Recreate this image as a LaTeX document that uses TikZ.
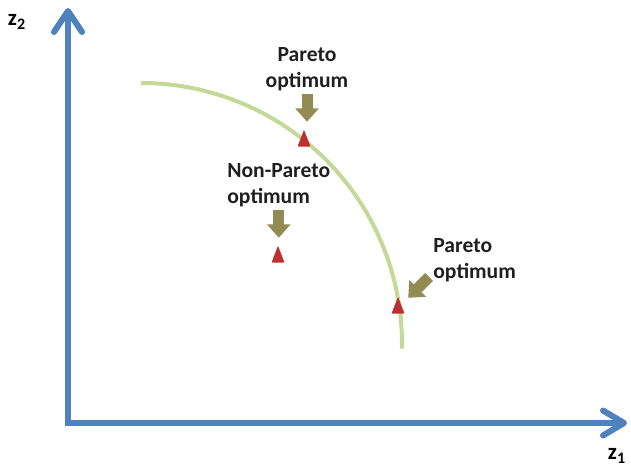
\documentclass[tikz,border=0pt]{standalone}
\usepackage{fontspec}
\setmainfont{Carlito}
\usetikzlibrary{arrows.meta,shapes.geometric}
\definecolor{axisblue}{RGB}{79,129,189}
\definecolor{frontgreen}{RGB}{196,216,152}
\definecolor{markred}{RGB}{188,48,48}
\definecolor{pointolive}{RGB}{148,138,84}
\tikzset{
  axisln/.style ={line width=0.12cm, draw=axisblue,
                  {Straight Barb[round, length=0.42cm, width=0.56cm]}-{Straight Barb[round, length=0.42cm, width=0.5cm]}},
  axlbl/.style  ={font=\fontsize{13}{15}\selectfont\bfseries, inner sep=0pt},
  front/.style  ={line width=0.08cm, draw=frontgreen},
  optpt/.style  ={regular polygon, regular polygon sides=3, minimum size=0.3cm,
                  inner sep=0pt, outer sep=0pt, fill=markred, yscale=1.5,
                  rounded corners=0.6pt},
  lbl/.style    ={font=\fontsize{12.3}{14.8}\selectfont\bfseries, inner sep=0pt,
                  text=black!88},
  pointer/.style={-{Triangle[width=0.46cm, length=0.27cm]}, line width=0.22cm,
                  draw=pointolive, shorten <=0.05cm, shorten >=0.16cm},
}
\begin{document}
\begin{tikzpicture}[x=0.02cm, y=-0.02cm]
  \useasboundingbox (0,0) rectangle (631,469);
  % axes
  \coordinate (orig) at (68,423);
  \coordinate (ytip) at (68,8);
  \coordinate (xtip) at (627,423);
  \draw[axisln] (ytip) -- (orig) -- (xtip);
  \node[axlbl] (zB) at (17,22) {z\textsubscript{2}};
  \node[axlbl] (zA) at (617,456) {z\textsubscript{1}};
  % front
  \coordinate (f0) at (141,83);
  \draw[front] (f0) arc[start angle=-90, end angle=1, radius=261];
  \node[optpt] (mkA) at (304,141) {};
  \node[optpt] (mkB) at (278,257) {};
  \node[optpt] (mkC) at (398,308) {};
  \node[lbl, align=center, anchor=north] (lblA) at (307,47) {Pareto\\optimum};
  \node[lbl, align=left, anchor=north west] (lblB) at (227,163) {Non-Pareto\\optimum};
  \node[lbl, align=left, anchor=north west] (lblC) at (433,238) {Pareto\\optimum};
  \draw[pointer] (lblA.south) -- (lblA.south |- mkA.north);
  \draw[pointer] (lblB.south) -- (lblB.south |- mkB.north);
  \coordinate (tailC) at (429,277);
  \draw[pointer, shorten <=0pt, shorten >=0.2cm] (tailC) -- (mkC);
\end{tikzpicture}
\end{document}
